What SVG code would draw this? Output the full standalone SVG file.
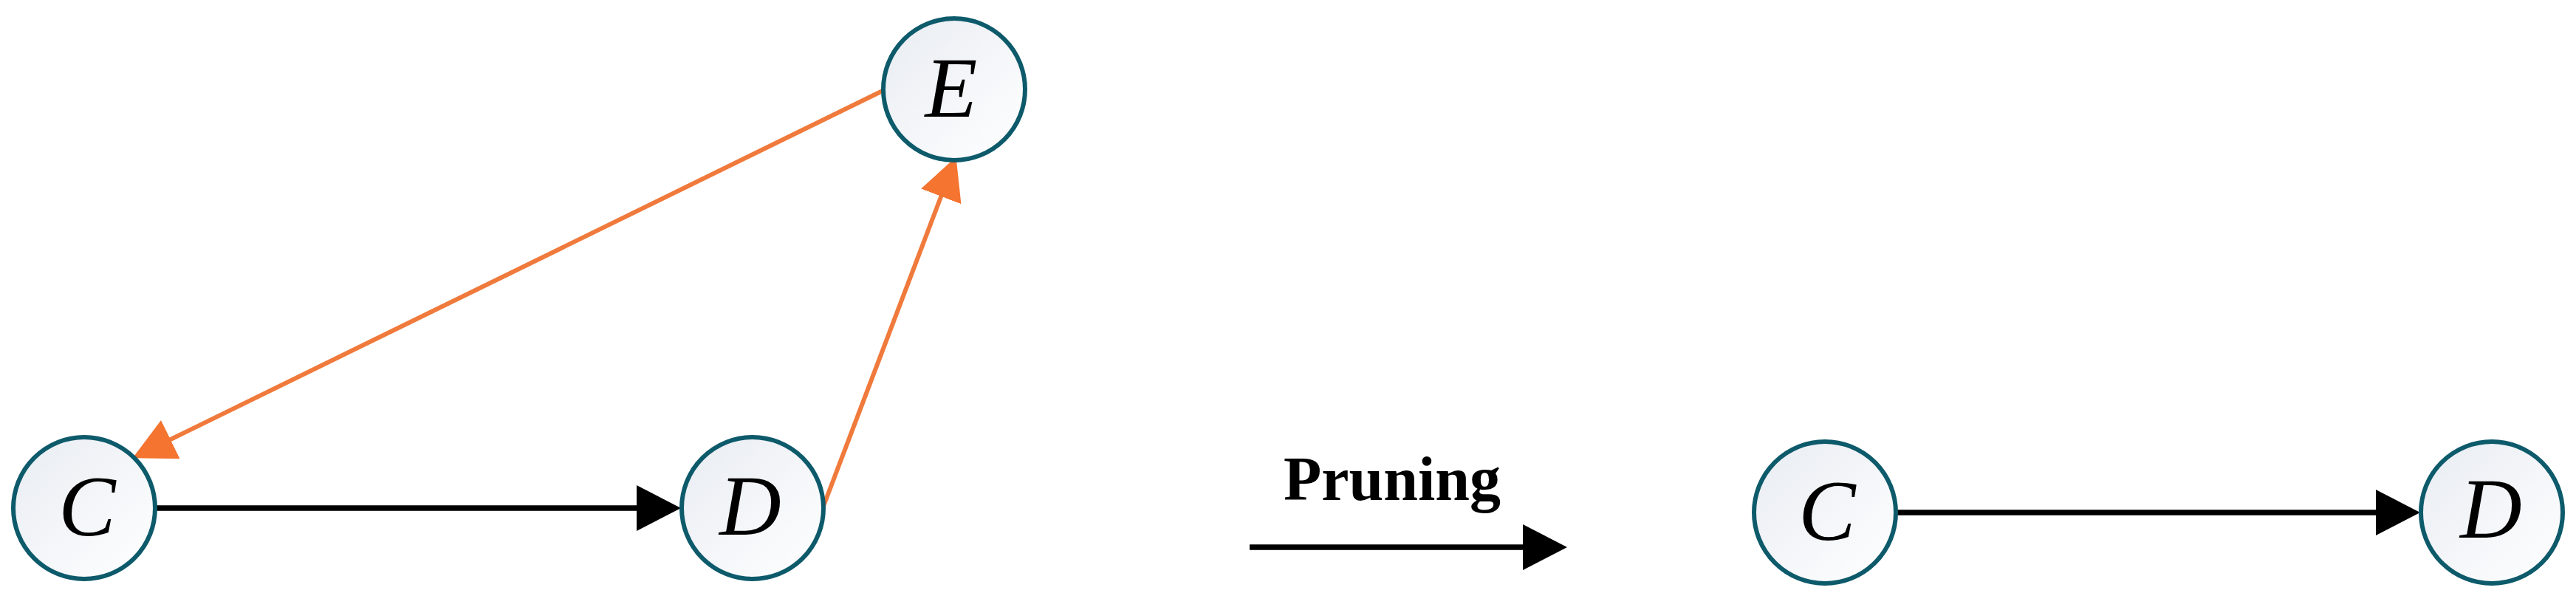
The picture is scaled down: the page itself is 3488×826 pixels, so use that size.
<svg xmlns="http://www.w3.org/2000/svg" width="3488" height="826" viewBox="0 0 3488 826">
  <style>
    .node circle { fill: url(#nodeFill); stroke: #0D5A6B; stroke-width: 6; }
    .node text { font-family: "Liberation Serif", "Times New Roman", serif; font-style: italic; font-size: 116px; fill: #000; text-anchor: middle; }
    .black { stroke: #000; stroke-width: 7.5; fill: none; }
    .orange { stroke: #F07A3C; stroke-width: 6; fill: none; }
    .label { font-family: "Liberation Serif", "Times New Roman", serif; font-weight: bold; font-size: 84px; fill: #000; text-anchor: middle; }
  </style>
  <defs>
    <linearGradient id="nodeFill" x1="0" y1="0" x2="1" y2="1">
      <stop offset="0" stop-color="#E8ECF2"/>
      <stop offset="1" stop-color="#FFFFFF"/>
    </linearGradient>
    <marker id="arrowBlack" markerUnits="userSpaceOnUse" markerWidth="62" markerHeight="64" refX="2" refY="31" orient="auto" viewBox="0 0 62 64">
      <path d="M0,0 L60,31 L0,62 Z" fill="#000"/>
    </marker>
    <marker id="arrowOrange" markerUnits="userSpaceOnUse" markerWidth="60" markerHeight="60" refX="2" refY="29" orient="auto" viewBox="0 0 60 60">
      <path d="M0,0 L57,29 L0,58 Z" fill="#F47430"/>
    </marker>
  </defs>
  <rect width="3488" height="826" fill="#FFFFFF"/>

  <g id="connectors">
    <line id="edge-C-D-left" class="black" x1="211" y1="688" x2="864" y2="688" marker-end="url(#arrowBlack)"/>
    <line id="edge-E-C" class="orange" x1="1195" y1="123" x2="229" y2="596" marker-end="url(#arrowOrange)"/>
    <line id="edge-D-E" class="orange" x1="1114" y1="688" x2="1275" y2="264" marker-end="url(#arrowOrange)"/>
    <line id="edge-pruning" class="black" x1="1692" y1="741" x2="2064" y2="741" marker-end="url(#arrowBlack)"/>
    <line id="edge-C-D-right" class="black" x1="2568" y1="694" x2="3219" y2="694" marker-end="url(#arrowBlack)"/>
  </g>

  <g id="node-C-left" class="node">
    <circle cx="114" cy="688" r="96"/>
    <text x="118" y="725">C</text>
  </g>
  <g id="node-D-left" class="node">
    <circle cx="1019" cy="688" r="96"/>
    <text x="1016" y="724">D</text>
  </g>
  <g id="node-E" class="node">
    <circle cx="1292" cy="121" r="96"/>
    <text x="1288" y="158">E</text>
  </g>
  <g id="node-C-right" class="node">
    <circle cx="2471" cy="694" r="96"/>
    <text x="2474" y="731">C</text>
  </g>
  <g id="node-D-right" class="node">
    <circle cx="3374" cy="694" r="96"/>
    <text x="3373" y="728">D</text>
  </g>

  <g id="label-pruning">
    <text class="label" x="1885" y="677">Pruning</text>
  </g>
</svg>
